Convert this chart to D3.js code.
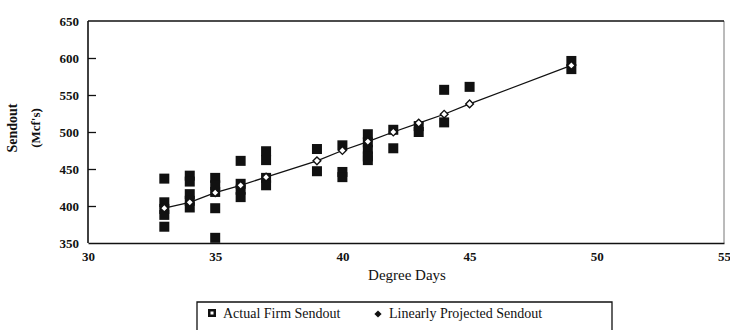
<html>
<head>
<meta charset="UTF-8">
<title>Sendout vs Degree Days</title>
<script src="https://cdnjs.cloudflare.com/ajax/libs/d3/7.8.5/d3.min.js"></script>
<style>
  body { margin: 0; background: #fff; }
  text { font-family: "Liberation Serif", "DejaVu Serif", serif; fill: #111; }
  .axis-line { stroke: #111; stroke-width: 1.6; fill: none; }
  .frame-right { stroke: #777; stroke-width: 1; fill: none; }
  .proj-line { stroke: #111; stroke-width: 1.3; fill: none; }
</style>
</head>
<body>
<div id="chart"></div>
<script>
// degree days that have readings
var degreeDays = [33, 34, 35, 36, 37, 39, 40, 41, 42, 43, 44, 45, 49];
// actual firm sendout (Mcf's) observed for each degree-day value
var actualSendout = [
  [437, 405, 396, 388, 372],
  [441, 433, 416, 407, 398],
  [438, 428, 419, 397, 357],
  [461, 430, 422, 412],
  [474, 462, 438, 428],
  [477, 447],
  [482, 446, 439],
  [497, 486, 476, 467, 462],
  [503, 478],
  [508, 500],
  [557, 513],
  [561],
  [596, 585]
];
// linearly projected sendout
var projectedSendout = [397, 405, 418, 428, 439, 461, 475, 487, 500, 512, 524, 538, 590];

var xTicks = [30, 35, 40, 45, 50, 55];
var yTicks = [350, 400, 450, 500, 550, 600, 650];
var legendLabels = ["Actual Firm Sendout", "Linearly Projected Sendout"];

var width = 730, height = 330;
var svg = d3.select("#chart").append("svg")
  .attr("width", width)
  .attr("height", height);

var x = d3.scaleLinear().domain([30, 55]).range([88, 724]);
var y = d3.scaleLinear().domain([350, 650]).range([243, 21]);

// flatten the actual points
var points = [];
degreeDays.forEach(function(d, i) {
  actualSendout[i].forEach(function(v) {
    points.push({ dd: d, v: v });
  });
});

// frame
svg.append("line").attr("class", "frame-right")
  .attr("x1", x(55)).attr("x2", x(55))
  .attr("y1", y(650)).attr("y2", y(350));
svg.append("line").attr("class", "axis-line")
  .attr("x1", x(30)).attr("x2", x(55))
  .attr("y1", y(650)).attr("y2", y(650));

// y axis, ticks pointing inwards
var yAxis = svg.append("g")
  .attr("transform", "translate(" + x(30) + ",0)")
  .call(d3.axisRight(y).tickValues(yTicks).tickSize(8).tickFormat(""));
yAxis.select(".domain").remove();
yAxis.selectAll(".tick line").attr("stroke", "#111").attr("stroke-width", 1.3)
  .filter(function(d) { return d == 350 || d == 650; }).remove();
svg.append("line").attr("class", "axis-line")
  .attr("x1", x(30)).attr("x2", x(30))
  .attr("y1", y(650)).attr("y2", y(350));

svg.selectAll(".ylab")
  .data(yTicks)
  .enter().append("text")
  .attr("class", "ylab")
  .attr("x", 79)
  .attr("y", function(d) { return y(d); })
  .attr("dy", "0.35em")
  .attr("text-anchor", "end")
  .style("font-size", "13px")
  .style("font-weight", "bold")
  .text(function(d) { return d; });

// x axis
var xAxis = svg.append("g")
  .attr("transform", "translate(0," + y(350) + ")")
  .call(d3.axisBottom(x).tickValues(xTicks).tickSize(0).tickPadding(9));
xAxis.select(".domain").attr("stroke", "#111").attr("stroke-width", 1.6);
xAxis.selectAll("text")
  .style("font-family", "Liberation Serif, serif")
  .style("font-size", "13px")
  .style("font-weight", "bold")
  .attr("fill", "#111");

// axis titles
svg.append("text")
  .attr("x", 407).attr("y", 280)
  .attr("text-anchor", "middle")
  .style("font-size", "15px")
  .text("Degree Days");

svg.append("text")
  .attr("transform", "translate(17,128) rotate(-90)")
  .attr("text-anchor", "middle")
  .style("font-size", "14px")
  .style("font-weight", "bold")
  .text("Sendout");
svg.append("text")
  .attr("transform", "translate(40,128) rotate(-90)")
  .attr("text-anchor", "middle")
  .style("font-size", "13px")
  .style("font-weight", "bold")
  .text("(Mcf's)");

// actual sendout squares
svg.selectAll("rect.actual")
  .data(points)
  .enter().append("rect")
  .attr("class", "actual")
  .attr("x", function(d) { return x(d.dd) - 5; })
  .attr("y", function(d) { return y(d.v) - 5; })
  .attr("width", 10)
  .attr("height", 10)
  .attr("fill", "#111");

// projected line
var line = d3.line()
  .x(function(d, i) { return x(degreeDays[i]); })
  .y(function(d) { return y(d); });
svg.append("path")
  .datum(projectedSendout)
  .attr("class", "proj-line")
  .attr("d", line);

// diamonds = squares turned 45 degrees
var diamond = d3.symbol().type(d3.symbolSquare).size(30);
svg.selectAll("path.proj")
  .data(projectedSendout)
  .enter().append("path")
  .attr("class", "proj")
  .attr("transform", function(d, i) { return "translate(" + x(degreeDays[i]) + "," + y(d) + ") rotate(45)"; })
  .attr("d", diamond)
  .attr("fill", "#fff")
  .attr("stroke", "#111")
  .attr("stroke-width", 1.4);

// legend
var legend = svg.append("g");
legend.append("path")
  .attr("d", "M197,330 V302 H612 V330")
  .attr("fill", "none")
  .attr("stroke", "#111")
  .attr("stroke-width", 1.3);
legend.append("rect")
  .attr("x", 208).attr("y", 309)
  .attr("width", 8).attr("height", 8)
  .attr("fill", "#111");
legend.append("rect")
  .attr("x", 210.5).attr("y", 311.5)
  .attr("width", 3).attr("height", 3)
  .attr("fill", "#fff");
legend.append("text")
  .attr("x", 223).attr("y", 318)
  .style("font-size", "14px")
  .text(legendLabels[0]);
legend.append("path")
  .attr("transform", "translate(378,314) rotate(45)")
  .attr("d", d3.symbol().type(d3.symbolSquare).size(26))
  .attr("fill", "#111");
legend.append("text")
  .attr("x", 389).attr("y", 318)
  .style("font-size", "14px")
  .text(legendLabels[1]);
</script>
</body>
</html>
